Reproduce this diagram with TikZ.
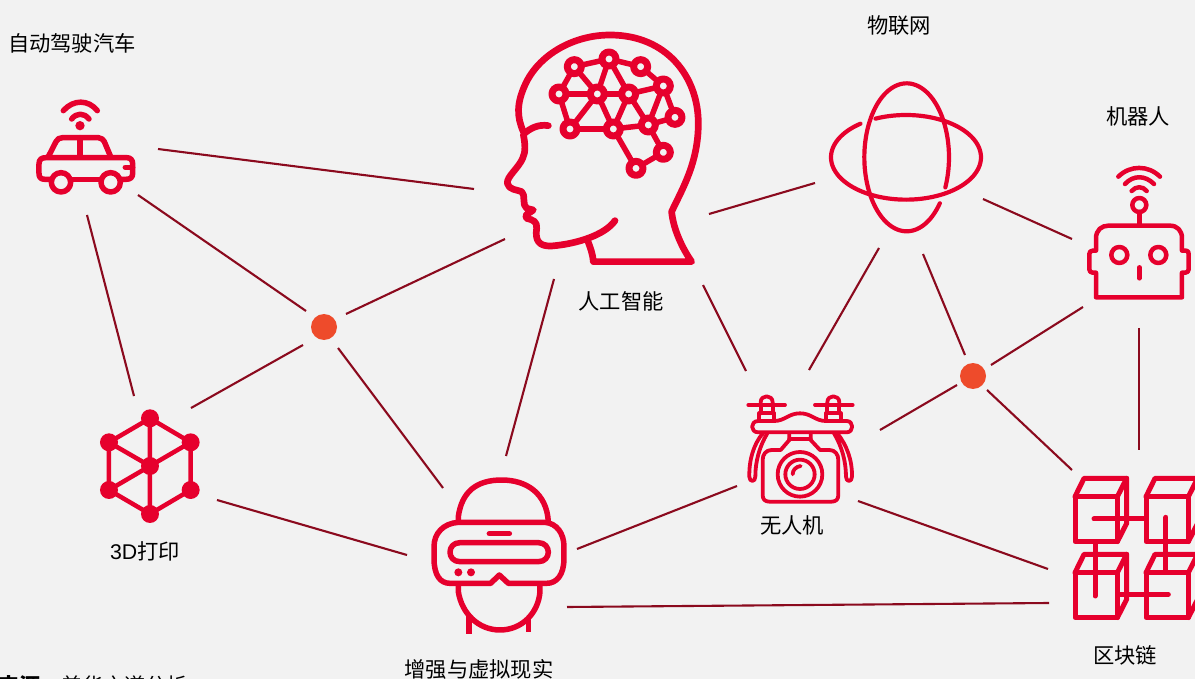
\documentclass[tikz,border=0pt]{standalone}
\usepackage{fontspec}
\setmainfont{Liberation Sans}
\newfontfamily\cjk{Noto Sans CJK SC}
\definecolor{bgc}{HTML}{F2F2F2}
\definecolor{iconred}{HTML}{E6002D}
\definecolor{linkred}{HTML}{8B0A1E}
\definecolor{dotred}{HTML}{EE4B2B}
\tikzset{
  link/.style={draw=linkred,line width=2.1pt},
  hubdot/.style={circle,fill=dotred,minimum size=26pt,inner sep=0pt},
  lbl/.style={font=\fontsize{21.3}{25}\selectfont\cjk,text=black,inner sep=0pt},
  ico/.style={draw=iconred,line cap=round,line join=round,line width=#1},
  ico/.default=5.5pt,
  zoomed/.style={shift={(#1)},x=0.3333pt,y=-0.3333pt}
}
\begin{document}
\begin{tikzpicture}[x=1pt,y=-1pt]
\path[fill=bgc] (0,0) rectangle (1195,679);
\useasboundingbox (0,0) rectangle (1195,679);
\clip (0,0) rectangle (1195,679);

% hub dots
\node[hubdot] (dotA) at (324,327) {};
\node[hubdot] (dotB) at (973,376) {};

% labels
\node[lbl] (lcar) at (72,43) {自动驾驶汽车};
\node[lbl] (liot) at (899,25) {物联网};
\node[lbl] (lrobot) at (1138,116) {机器人};
\node[lbl] (lai) at (621,301) {人工智能};
\node[lbl] (l3d) at (145,551) {{\fontspec{Liberation Sans}3D}打印};
\node[lbl] (ldrone) at (792,525) {无人机};
\node[lbl] (lvr) at (479,669) {增强与虚拟现实};
\node[lbl] (lchain) at (1125,655) {区块链};
\node[lbl,anchor=west] (lsrc) at (-2,686) {\fontsize{21}{24}\selectfont{\bfseries 来源}：美华之道分析};

% connector ends
\coordinate (car1) at (158,149); \coordinate (ai1) at (474,189);
\coordinate (car2) at (138,195); \coordinate (dotA1) at (306,311);
\coordinate (car3) at (87,215);  \coordinate (td1) at (134,396);
\coordinate (dotA2) at (346,314); \coordinate (ai2) at (505,239);
\coordinate (dotA3) at (303,345); \coordinate (td2) at (191,408);
\coordinate (dotA4) at (338,348); \coordinate (vr1) at (443,488);
\coordinate (ai3) at (554,279); \coordinate (vr2) at (506,456);
\coordinate (td3) at (217,500); \coordinate (vr3) at (407,555);
\coordinate (vr4) at (577,549); \coordinate (dr1) at (737,486);
\coordinate (vr5) at (567,607); \coordinate (bc1) at (1049,603);
\coordinate (ai4) at (703,285); \coordinate (dr2) at (746,371);
\coordinate (ai5) at (709,214); \coordinate (iot1) at (815,183);
\coordinate (iot2) at (879,248); \coordinate (dr3) at (809,370);
\coordinate (iot3) at (923,254); \coordinate (dotB1) at (965,355);
\coordinate (iot4) at (983,199); \coordinate (rb1) at (1072,239);
\coordinate (rb2) at (1083,307); \coordinate (dotB2) at (991,365);
\coordinate (rb3) at (1139,328); \coordinate (bc2) at (1139,450);
\coordinate (dotB3) at (957,385); \coordinate (dr4) at (880,430);
\coordinate (dotB4) at (987,390); \coordinate (bc3) at (1072,470);
\coordinate (dr5) at (858,501); \coordinate (bc4) at (1048,569);

% connectors
\draw[link] (car1)--(ai1);
\draw[link] (car2)--(dotA1);
\draw[link] (car3)--(td1);
\draw[link] (dotA2)--(ai2);
\draw[link] (dotA3)--(td2);
\draw[link] (dotA4)--(vr1);
\draw[link] (ai3)--(vr2);
\draw[link] (td3)--(vr3);
\draw[link] (vr4)--(dr1);
\draw[link] (vr5)--(bc1);
\draw[link] (ai4)--(dr2);
\draw[link] (ai5)--(iot1);
\draw[link] (iot2)--(dr3);
\draw[link] (iot3)--(dotB1);
\draw[link] (iot4)--(rb1);
\draw[link] (rb2)--(dotB2);
\draw[link] (rb3)--(bc2);
\draw[link] (dotB3)--(dr4);
\draw[link] (dotB4)--(bc3);
\draw[link] (dr5)--(bc4);

% head
\begin{scope}[zoomed={490,20}]
\draw[ico=6.7pt] (100,335) .. controls (80,290) and (80,250) .. (105,195)
  .. controls (145,105) and (250,45) .. (360,45)
  .. controls (530,45) and (625,170) .. (625,310)
  .. controls (625,430) and (575,510) .. (545,575)
  .. controls (550,630) and (580,690) .. (605,725) -- (310,725)
  .. controls (308,700) and (300,680) .. (293,662);
\draw[ico=6.7pt] (175,317) .. controls (145,312) and (120,325) .. (100,343)
  .. controls (105,370) and (108,395) .. (98,415)
  .. controls (85,445) and (50,470) .. (52,490)
  .. controls (55,510) and (85,510) .. (95,515)
  .. controls (108,525) and (95,555) .. (110,565) -- (130,570)
  .. controls (120,580) and (100,582) .. (110,595)
  .. controls (130,600) and (142,605) .. (140,625)
  .. controls (135,660) and (145,680) .. (185,678)
  .. controls (260,672) and (345,645) .. (375,602);
\foreach \a/\b/\c/\d in {253/140/357/117,357/117/452/140,452/140/520/198,520/198/555/292,555/292/475/315,475/315/520/397,520/397/438/445,438/445/370/327,370/327/240/327,240/327/207/222,207/222/253/140,207/222/322/222,322/222/416/222,416/222/520/198,253/140/322/222,357/117/322/222,357/117/416/222,416/222/475/315,416/222/370/327,322/222/240/327,322/222/370/327,370/327/475/315,520/198/475/315}
  \draw[ico=5.5pt] (\a,\b)--(\c,\d);
\foreach \a/\b in {253/140,357/117,452/140,520/198,555/292,475/315,520/397,438/445,370/327,240/327,207/222,322/222,416/222}
  \draw[ico=7pt,fill=bgc] (\a,\b) circle[radius=21];
\end{scope}

% car
\begin{scope}[zoomed={20,90}]
\draw[ico] (130,62) .. controls (160,28) and (205,28) .. (232,62);
\draw[ico] (155,87) .. controls (170,68) and (192,68) .. (207,87);
\fill[iconred] (180,107) circle[radius=14];
\draw[ico] (85,200) -- (108,155) .. controls (112,147) and (118,143) .. (128,143) -- (235,143) .. controls (245,143) and (250,150) .. (253,155) -- (272,200);
\draw[ico] (180,143)--(180,200);
\draw[ico] (90,268) -- (75,268) .. controls (62,268) and (57,262) .. (57,250) -- (57,222) .. controls (57,208) and (65,203) .. (78,203) -- (320,203) .. controls (332,203) and (338,210) .. (338,222) -- (338,250) .. controls (338,262) and (332,268) .. (318,268) -- (305,268);
\draw[ico] (155,268)--(240,268);
\draw[ico] (316,232)--(338,232);
\draw[ico,fill=bgc] (123,277) circle[radius=29];
\draw[ico,fill=bgc] (272,277) circle[radius=29];
\end{scope}

% 3D cube
\begin{scope}[zoomed={90,400}]
\draw[ico=4.5pt] (180,55)--(302,127)--(302,270)--(180,342)--(57,270)--(57,127)--cycle;
\draw[ico=4.5pt] (180,55)--(180,342) (57,127)--(180,198)--(302,127) (57,270)--(180,198);
\foreach \a/\b in {180/55,302/127,302/270,180/342,57/270,57/127,180/198}
  \fill[iconred] (\a,\b) circle[radius=27];
\end{scope}

% globe
\begin{scope}[zoomed={820,70}]
\draw[ico=4.2pt] plot[domain=232.6:-114,samples=120] ({258+225*cos(\x)},{262+127*sin(\x)});
\draw[ico=4.2pt] plot[domain=24:-321.6,samples=120] ({260+127*cos(\x)},{262+222*sin(\x)});
\end{scope}

% robot
\begin{scope}[zoomed={1080,160}]
\draw[ico=4.5pt] (115,50) .. controls (150,15) and (205,15) .. (240,50);
\draw[ico=4.5pt] (135,72) .. controls (160,45) and (195,45) .. (222,72);
\draw[ico=4.5pt] (155,93) .. controls (168,78) and (188,78) .. (200,93);
\draw[ico=4.5pt] (178,135) circle[radius=21];
\draw[ico=4.5pt] (178,156)--(178,197);
\draw[ico=4.5pt] (48,272) -- (48,235) .. controls (48,210) and (65,197) .. (85,197) -- (270,197) .. controls (292,197) and (306,212) .. (306,235) -- (306,272) -- (318,272) .. controls (324,272) and (326,276) .. (326,282) -- (326,328) .. controls (326,334) and (322,338) .. (316,338) -- (306,338) -- (306,412) -- (48,412) -- (48,338) -- (38,338) .. controls (32,338) and (28,334) .. (28,328) -- (28,282) .. controls (28,276) and (32,272) .. (38,272) -- cycle;
\draw[ico=4.5pt] (118,285) circle[radius=24];
\draw[ico=4.5pt] (235,285) circle[radius=24];
\draw[ico=4.5pt] (178,322)--(178,355);
\end{scope}

% drone
\begin{scope}[zoomed={730,385}]
\draw[ico=3.8pt] (55,60)--(165,60) (255,60)--(368,60);
\foreach \c in {110,310}{
  \draw[ico=3.8pt] (\c-18,60) -- (\c-18,52) .. controls (\c-18,28) and (\c+18,28) .. (\c+18,52) -- (\c+18,60);
  \draw[ico=3.8pt] (\c-22,108) -- (\c-22,85) -- (\c+22,85) -- (\c+22,108);
  \draw[ico=3.8pt] (\c-18,60) -- (\c-18,85) (\c+18,60) -- (\c+18,85);
}
\draw[ico=3.8pt] (85,108) -- (132,108) .. controls (165,108) and (175,85) .. (210,85) .. controls (245,85) and (255,108) .. (288,108) -- (350,108) .. controls (372,108) and (372,142) .. (350,142) -- (85,142) .. controls (60,142) and (60,108) .. (85,108);
\draw[ico=3.8pt] (98,145) .. controls (70,180) and (57,225) .. (58,275) .. controls (58,292) and (76,292) .. (76,275) .. controls (76,230) and (88,185) .. (112,145);
\draw[ico=3.8pt] (322,145) .. controls (350,180) and (367,225) .. (366,275) .. controls (366,292) and (348,292) .. (348,275) .. controls (348,230) and (336,185) .. (312,145);
\draw[ico=3.8pt] (178,145) -- (178,165) -- (152,195) -- (125,195) .. controls (108,195) and (98,208) .. (98,225) -- (98,330) .. controls (98,343) and (105,350) .. (118,350) -- (305,350) .. controls (318,350) and (325,343) .. (325,330) -- (325,225) .. controls (325,208) and (315,195) .. (298,195) -- (270,195) -- (242,165) -- (242,145);
\draw[ico=3.8pt] (178,162)--(242,162);
\draw[ico=3.8pt] (210,268) circle[radius=67];
\draw[ico=3.8pt] (210,268) circle[radius=44];
\draw[ico=3.8pt] (188,268) .. controls (188,255) and (198,245) .. (212,243);
\end{scope}

% VR
\begin{scope}[zoomed={420,470}]
\draw[ico] (115,155) -- (115,140) .. controls (125,65) and (170,30) .. (245,30) .. controls (320,30) and (380,70) .. (385,155);
\draw[ico] (115,157) -- (375,157) .. controls (410,160) and (432,190) .. (432,230) -- (432,265) .. controls (432,315) and (410,340) .. (380,340) -- (265,340) -- (238,315) -- (212,340) -- (90,340) .. controls (60,340) and (42,315) .. (42,265) -- (42,230) .. controls (42,190) and (70,160) .. (115,157) -- cycle;
\draw[ico] (120,218) -- (355,218) .. controls (395,218) and (395,275) .. (355,275) -- (120,275) .. controls (80,275) and (80,218) .. (120,218) -- cycle;
\draw[ico] (208,191)--(268,191);
\fill[iconred] (115,307) circle[radius=12] (153,307) circle[radius=12];
\draw[ico] (115,342) -- (115,365) .. controls (125,430) and (175,480) .. (240,480) .. controls (305,480) and (355,430) .. (360,365) -- (360,342);
\draw[draw=iconred,line width=5.5pt] (147,437)--(147,491);
\draw[draw=iconred,line width=4.5pt] (326,445)--(326,487);
\end{scope}

% blockchain
\begin{scope}[zoomed={1060,460}]
\foreach \dx/\dy in {0/0,213/0,0/228,213/228}{
  \draw[ico=5pt] (45+\dx,110+\dy) rectangle (172+\dx,245+\dy);
  \draw[ico=5pt] (45+\dx,110+\dy) -- (72+\dx,55+\dy) -- (200+\dx,55+\dy) -- (172+\dx,110+\dy);
  \draw[ico=5pt] (200+\dx,55+\dy) -- (200+\dx,190+\dy) -- (172+\dx,245+\dy);
}
\draw[ico=5pt] (102,177)--(250,177);
\draw[ico=5pt] (105,245)--(105,408);
\draw[ico=5pt] (318,172)--(318,335);
\draw[ico=5pt] (175,403)--(325,403);
\end{scope}
\end{tikzpicture}
\end{document}
